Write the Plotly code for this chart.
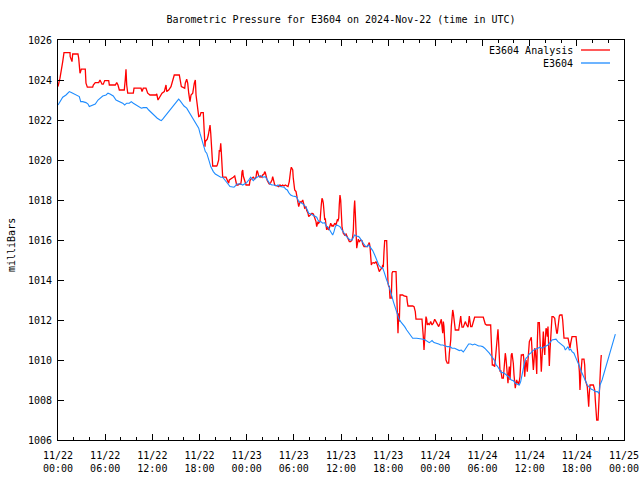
import datetime as dt
import plotly.graph_objects as go

title_text = "Barometric Pressure for E3604 on 2024-Nov-22 (time in UTC)"
y_label = "milliBars"
start_time = dt.datetime(2024, 11, 22, 0, 0)
span_hours = 72
y_min, y_max = 1006, 1026
series_names = ["E3604 Analysis", "E3604"]
series_colors = ["#ff0000", "#1e8cff"]

# (hours since 11/22 00:00 UTC, millibars)
analysis_obs = [
    (0.00, 1023.67), (0.25, 1024.09), (0.60, 1024.92), (0.76, 1025.37), (1.53, 1025.37),
    (1.55, 1025.17), (1.78, 1024.92), (1.87, 1025.30), (2.54, 1025.30), (2.63, 1025.09),
    (2.80, 1024.34), (2.96, 1024.54), (3.47, 1024.54), (3.56, 1023.84), (3.73, 1023.64),
    (4.41, 1023.64), (4.49, 1023.75), (4.74, 1023.87), (5.18, 1023.87), (5.34, 1024.00),
    (5.60, 1023.79), (5.76, 1023.79), (5.94, 1023.97), (6.45, 1023.97), (6.53, 1023.75),
    (7.29, 1023.75), (7.47, 1023.87), (7.63, 1023.75), (7.80, 1023.50), (8.43, 1023.50),
    (8.56, 1024.04), (8.65, 1024.54), (8.74, 1023.75), (8.87, 1023.34), (9.58, 1023.34),
    (9.67, 1023.59), (10.56, 1023.59), (10.69, 1023.42), (10.85, 1023.59), (11.19, 1023.59),
    (11.41, 1023.34), (11.70, 1023.25), (12.47, 1023.25), (12.56, 1023.30), (12.72, 1023.00),
    (12.98, 1023.17), (13.23, 1023.34), (13.52, 1023.42), (13.74, 1023.75), (13.83, 1023.42),
    (14.08, 1023.50), (14.37, 1023.67), (14.59, 1023.92), (14.79, 1024.25), (15.43, 1024.25),
    (15.52, 1024.09), (15.69, 1023.67), (16.12, 1023.59), (16.19, 1023.84), (16.37, 1024.04),
    (16.50, 1023.84), (16.63, 1023.34), (16.79, 1022.92), (16.92, 1023.25), (17.14, 1023.34),
    (17.34, 1023.84), (17.47, 1024.00), (17.56, 1023.25), (17.77, 1022.42), (17.90, 1022.17),
    (18.06, 1022.20), (18.19, 1022.37), (18.48, 1022.37), (18.57, 1021.59), (18.61, 1021.00),
    (18.70, 1020.67), (18.74, 1020.92), (18.99, 1021.04), (19.12, 1021.25), (19.25, 1021.67),
    (19.34, 1021.75), (19.43, 1021.34), (19.50, 1020.84), (19.59, 1019.75), (19.68, 1019.70),
    (20.19, 1019.70), (20.26, 1019.75), (20.44, 1020.00), (20.52, 1020.50), (20.61, 1020.42),
    (20.70, 1020.84), (20.77, 1020.42), (20.86, 1019.50), (20.95, 1019.14), (21.37, 1019.14),
    (21.46, 1019.04), (21.63, 1018.92), (21.71, 1018.84), (21.79, 1019.00), (21.97, 1019.04),
    (22.30, 1019.14), (22.48, 1019.20), (22.56, 1019.04), (22.73, 1018.75), (22.90, 1018.75),
    (23.06, 1018.80), (23.24, 1018.80), (23.32, 1018.97), (23.41, 1019.42), (23.50, 1019.50),
    (23.57, 1019.20), (23.75, 1019.00), (23.83, 1018.80), (23.92, 1018.75), (24.34, 1018.75),
    (24.42, 1018.97), (24.59, 1019.07), (24.84, 1019.14), (25.02, 1019.04), (25.19, 1019.14),
    (25.28, 1019.42), (25.35, 1019.47), (25.44, 1019.34), (25.53, 1019.20), (25.70, 1019.14),
    (25.79, 1019.20), (25.95, 1019.14), (26.04, 1019.25), (26.21, 1019.30), (26.29, 1019.42),
    (26.37, 1019.37), (26.46, 1019.20), (26.55, 1019.04), (26.62, 1018.97), (26.80, 1018.84),
    (26.88, 1018.80), (27.06, 1018.87), (27.22, 1019.00), (27.31, 1019.17), (27.39, 1019.04),
    (27.48, 1018.84), (27.57, 1018.75), (27.90, 1018.70), (28.08, 1018.67), (28.24, 1018.75),
    (28.41, 1018.70), (28.58, 1018.75), (28.75, 1018.70), (28.91, 1018.75), (29.09, 1018.70),
    (29.26, 1018.67), (29.42, 1018.92), (29.51, 1019.34), (29.60, 1019.50), (29.68, 1019.64),
    (29.77, 1019.59), (29.86, 1019.50), (29.93, 1019.09), (30.02, 1018.67), (30.11, 1018.50),
    (30.28, 1018.42), (30.37, 1018.17), (30.44, 1018.00), (30.53, 1017.87), (30.62, 1017.67),
    (30.79, 1017.92), (30.95, 1017.87), (31.13, 1018.00), (31.21, 1017.92), (31.29, 1017.75),
    (31.38, 1017.59), (31.55, 1017.64), (31.64, 1017.47), (31.80, 1017.34), (31.89, 1017.17),
    (31.97, 1017.20), (32.15, 1017.30), (32.31, 1017.34), (32.48, 1017.30), (32.57, 1017.20),
    (32.73, 1017.09), (32.82, 1016.92), (32.91, 1016.67), (32.98, 1016.84), (33.07, 1016.92),
    (33.16, 1016.84), (33.33, 1016.92), (33.49, 1017.75), (33.58, 1018.09), (33.67, 1018.00),
    (33.75, 1017.84), (33.84, 1017.42), (33.93, 1017.00), (34.00, 1017.09), (34.09, 1016.75),
    (34.18, 1016.50), (34.26, 1016.67), (34.43, 1016.50), (34.51, 1016.59), (34.60, 1016.70),
    (34.69, 1016.84), (34.86, 1016.67), (34.94, 1016.75), (35.02, 1016.67), (35.20, 1016.84),
    (35.36, 1016.75), (35.45, 1016.92), (35.53, 1017.00), (35.62, 1016.97), (35.71, 1017.09),
    (35.78, 1017.75), (35.87, 1018.25), (35.96, 1018.00), (36.04, 1017.17), (36.13, 1016.64),
    (36.29, 1016.34), (36.47, 1016.25), (36.64, 1016.30), (36.80, 1016.17), (36.98, 1016.00),
    (37.06, 1015.92), (37.23, 1015.92), (37.40, 1016.00), (37.49, 1016.17), (37.57, 1016.50),
    (37.66, 1017.50), (37.74, 1017.97), (37.82, 1017.34), (37.91, 1016.50), (38.00, 1015.59),
    (38.07, 1015.75), (38.20, 1016.04), (38.33, 1015.92), (38.51, 1016.00), (38.67, 1015.97),
    (38.76, 1015.80), (38.93, 1015.67), (39.35, 1015.67), (39.52, 1015.80), (39.60, 1015.87),
    (39.69, 1015.67), (39.78, 1015.00), (39.86, 1014.75), (39.94, 1014.84), (40.11, 1014.87),
    (40.29, 1014.84), (40.45, 1014.92), (40.62, 1014.75), (40.80, 1014.50), (40.87, 1014.42),
    (41.05, 1014.54), (41.22, 1014.59), (41.31, 1014.75), (41.38, 1014.64), (41.47, 1015.42),
    (41.56, 1015.97), (41.81, 1015.97), (41.89, 1014.50), (41.98, 1013.84), (42.07, 1013.67),
    (42.15, 1013.70), (42.23, 1013.09), (42.40, 1013.09), (42.49, 1014.34), (42.58, 1014.42),
    (43.00, 1014.42), (43.09, 1013.34), (43.16, 1012.00), (43.25, 1011.34), (43.34, 1012.34),
    (43.42, 1011.92), (43.51, 1013.25), (43.85, 1013.25), (44.01, 1013.20), (44.36, 1013.17),
    (44.43, 1012.92), (44.52, 1012.70), (45.12, 1012.70), (45.29, 1012.67), (45.45, 1012.42),
    (45.54, 1012.04), (46.30, 1012.04), (46.39, 1011.67), (46.47, 1011.17), (46.56, 1010.50),
    (46.64, 1011.17), (46.72, 1011.67), (46.81, 1012.17), (46.90, 1012.04), (46.98, 1011.75),
    (47.07, 1011.84), (47.23, 1011.75), (47.41, 1011.92), (47.58, 1011.75), (47.74, 1011.84),
    (47.92, 1012.04), (48.09, 1011.92), (48.25, 1011.80), (48.43, 1011.67), (48.60, 1011.84),
    (48.76, 1012.04), (48.85, 1011.67), (48.94, 1011.34), (49.02, 1011.92), (49.10, 1011.67),
    (49.19, 1011.00), (49.27, 1010.67), (49.36, 1010.00), (49.52, 1009.84), (49.70, 1009.84),
    (49.78, 1010.34), (49.87, 1010.70), (49.96, 1011.00), (50.03, 1011.67), (50.12, 1012.17),
    (50.21, 1012.50), (50.29, 1012.34), (50.38, 1012.00), (50.46, 1011.67), (50.54, 1011.50),
    (50.97, 1011.50), (51.05, 1011.84), (51.14, 1012.00), (51.23, 1012.20), (51.30, 1011.92),
    (51.39, 1011.64), (51.56, 1011.64), (51.65, 1011.75), (51.81, 1011.92), (51.99, 1011.75),
    (52.16, 1011.64), (52.24, 1011.92), (52.32, 1012.20), (52.41, 1011.92), (52.50, 1011.67),
    (52.66, 1011.67), (52.83, 1011.92), (52.92, 1012.09), (53.00, 1012.14), (54.10, 1012.14),
    (54.19, 1012.00), (54.35, 1011.80), (54.53, 1011.75), (55.04, 1011.75), (55.08, 1011.34),
    (55.17, 1010.34), (55.25, 1009.75), (55.38, 1009.75), (55.46, 1009.67), (55.55, 1009.67),
    (55.63, 1010.00), (55.72, 1010.50), (55.81, 1011.00), (55.88, 1011.42), (55.97, 1011.54),
    (56.06, 1010.84), (56.14, 1010.25), (56.23, 1009.42), (56.32, 1009.50), (56.40, 1009.25),
    (56.48, 1009.09), (56.65, 1009.09), (56.74, 1009.67), (56.83, 1010.25), (56.90, 1010.34),
    (56.99, 1010.09), (57.08, 1009.67), (57.16, 1009.42), (57.24, 1008.84), (57.33, 1009.34),
    (57.41, 1009.67), (57.50, 1009.00), (57.58, 1009.75), (57.66, 1010.25), (57.75, 1010.34),
    (57.84, 1010.09), (57.92, 1009.84), (58.01, 1009.25), (58.10, 1008.75), (58.17, 1008.59),
    (58.26, 1008.84), (58.35, 1009.00), (58.43, 1008.84), (58.52, 1008.92), (58.61, 1008.75),
    (58.68, 1008.92), (58.77, 1009.17), (58.86, 1009.84), (58.94, 1010.25), (59.12, 1010.25),
    (59.19, 1010.30), (59.28, 1009.92), (59.37, 1009.17), (59.45, 1009.67), (59.54, 1010.00),
    (59.63, 1009.67), (59.70, 1009.42), (59.79, 1010.00), (59.88, 1010.67), (59.96, 1010.92),
    (60.05, 1011.00), (60.14, 1011.09), (60.21, 1011.14), (60.30, 1010.50), (60.39, 1009.75),
    (60.47, 1009.50), (60.55, 1009.92), (60.64, 1010.59), (60.72, 1010.50), (60.81, 1010.00),
    (60.90, 1009.30), (60.97, 1010.84), (61.06, 1011.87), (61.23, 1011.87), (61.32, 1011.00),
    (61.41, 1009.92), (61.48, 1009.42), (61.57, 1010.09), (61.66, 1011.34), (61.74, 1011.42),
    (61.83, 1010.67), (61.92, 1010.25), (61.99, 1011.00), (62.08, 1011.59), (62.17, 1011.50),
    (62.25, 1011.17), (62.33, 1011.67), (62.42, 1010.75), (62.50, 1009.70), (62.59, 1010.50),
    (62.68, 1011.34), (62.76, 1011.67), (62.84, 1012.17), (63.01, 1012.17), (63.19, 1012.09),
    (63.26, 1011.84), (63.35, 1011.50), (63.44, 1011.34), (63.52, 1011.34), (63.60, 1011.67),
    (63.69, 1012.09), (63.77, 1012.20), (63.86, 1012.25), (64.11, 1012.25), (64.20, 1012.00),
    (64.28, 1011.50), (64.37, 1011.09), (64.88, 1011.09), (64.97, 1010.92), (65.04, 1010.92),
    (65.13, 1010.59), (65.22, 1010.84), (65.30, 1011.09), (65.39, 1011.17), (65.90, 1011.17),
    (65.98, 1010.92), (66.06, 1010.67), (66.15, 1010.34), (66.24, 1009.84), (66.32, 1009.42),
    (66.40, 1008.50), (66.49, 1009.17), (66.57, 1010.00), (66.66, 1010.04), (66.91, 1010.04),
    (67.00, 1009.75), (67.08, 1009.00), (67.26, 1008.75), (67.33, 1008.67), (67.42, 1008.17),
    (67.51, 1007.67), (67.59, 1008.34), (67.68, 1008.75), (68.10, 1008.75), (68.28, 1008.50),
    (68.35, 1008.00), (68.44, 1007.42), (68.53, 1007.00), (68.70, 1007.00), (68.79, 1007.84),
    (68.86, 1008.50), (68.95, 1009.75), (69.04, 1009.84), (69.11, 1010.25),
]

station_obs = [
    (0.00, 1022.75), (0.34, 1023.00), (0.60, 1023.14), (1.02, 1023.25), (1.44, 1023.42),
    (1.69, 1023.37), (2.04, 1023.30), (2.38, 1023.25), (2.71, 1023.17), (2.89, 1022.92),
    (3.14, 1022.92), (3.56, 1022.87), (3.82, 1022.80), (3.98, 1022.67), (4.41, 1022.75),
    (4.74, 1022.80), (5.09, 1023.00), (5.43, 1023.14), (5.69, 1023.20), (6.11, 1023.25),
    (6.36, 1023.34), (6.61, 1023.30), (7.03, 1023.20), (7.38, 1023.00), (7.80, 1022.92),
    (8.23, 1022.84), (8.48, 1022.75), (8.74, 1022.84), (9.07, 1022.84), (9.32, 1022.92),
    (9.58, 1022.84), (9.92, 1022.75), (10.18, 1022.67), (10.60, 1022.59), (10.85, 1022.62),
    (11.28, 1022.62), (11.54, 1022.50), (11.87, 1022.37), (12.05, 1022.34), (12.30, 1022.20),
    (12.63, 1022.09), (12.98, 1022.00), (13.14, 1021.97), (13.32, 1022.04), (13.57, 1022.17),
    (13.90, 1022.30), (14.16, 1022.42), (14.41, 1022.59), (14.67, 1022.70), (14.92, 1022.84),
    (15.18, 1022.97), (15.35, 1023.04), (15.52, 1022.97), (15.77, 1022.84), (16.03, 1022.70),
    (16.37, 1022.59), (16.63, 1022.42), (16.88, 1022.25), (17.14, 1022.09), (17.39, 1021.92),
    (17.64, 1021.75), (17.90, 1021.59), (18.06, 1021.34), (18.23, 1021.09), (18.41, 1020.84),
    (18.57, 1020.59), (18.74, 1020.42), (18.92, 1020.34), (19.08, 1020.17), (19.25, 1019.92),
    (19.43, 1019.67), (19.59, 1019.50), (19.76, 1019.42), (20.01, 1019.30), (20.19, 1019.25),
    (20.44, 1019.20), (20.70, 1019.14), (20.95, 1019.14), (21.12, 1019.04), (21.37, 1018.92),
    (21.63, 1018.80), (21.88, 1018.67), (22.13, 1018.64), (22.39, 1018.64), (22.56, 1018.70),
    (22.73, 1018.80), (22.99, 1018.80), (23.24, 1018.80), (23.50, 1018.75), (23.75, 1018.80),
    (24.00, 1018.87), (24.26, 1019.00), (24.51, 1019.14), (24.68, 1019.04), (24.84, 1018.97),
    (25.10, 1019.09), (25.35, 1019.14), (25.61, 1019.20), (25.86, 1019.20), (26.12, 1019.14),
    (26.37, 1019.17), (26.55, 1019.04), (26.71, 1018.92), (26.97, 1018.80), (27.22, 1018.75),
    (27.48, 1018.75), (27.73, 1018.70), (27.99, 1018.75), (28.24, 1018.67), (28.50, 1018.64),
    (28.75, 1018.64), (29.00, 1018.54), (29.17, 1018.50), (29.35, 1018.37), (29.60, 1018.25),
    (29.86, 1018.20), (30.11, 1018.17), (30.28, 1018.17), (30.44, 1018.09), (30.62, 1017.92),
    (30.79, 1017.87), (31.04, 1017.84), (31.29, 1017.75), (31.55, 1017.64), (31.72, 1017.50),
    (31.89, 1017.34), (32.15, 1017.30), (32.40, 1017.25), (32.65, 1017.20), (32.91, 1017.14),
    (33.07, 1017.00), (33.24, 1016.92), (33.42, 1016.92), (33.67, 1016.84), (33.93, 1016.87),
    (34.09, 1016.70), (34.35, 1016.64), (34.60, 1016.47), (34.77, 1016.34), (34.94, 1016.25),
    (35.11, 1016.42), (35.28, 1016.67), (35.45, 1016.75), (35.71, 1016.70), (35.87, 1016.67),
    (36.13, 1016.50), (36.38, 1016.34), (36.64, 1016.20), (36.89, 1016.09), (37.15, 1016.00),
    (37.40, 1016.00), (37.57, 1016.14), (37.74, 1016.25), (38.00, 1016.20), (38.25, 1016.17),
    (38.42, 1016.09), (38.67, 1015.97), (38.84, 1015.84), (39.09, 1015.70), (39.35, 1015.67),
    (39.52, 1015.75), (39.69, 1015.67), (39.86, 1015.59), (40.03, 1015.47), (40.29, 1015.25),
    (40.54, 1015.00), (40.80, 1014.75), (41.05, 1014.64), (41.31, 1014.59), (41.47, 1014.42),
    (41.64, 1014.17), (41.81, 1014.00), (41.98, 1013.84), (42.15, 1013.64), (42.32, 1013.42),
    (42.49, 1013.17), (42.66, 1012.92), (42.83, 1012.70), (43.00, 1012.47), (43.16, 1012.25),
    (43.34, 1012.09), (43.59, 1011.92), (43.85, 1011.80), (44.10, 1011.67), (44.36, 1011.50),
    (44.61, 1011.37), (44.87, 1011.20), (45.12, 1011.09), (45.63, 1011.09), (46.05, 1011.07),
    (46.47, 1011.04), (46.72, 1011.00), (46.98, 1010.92), (47.23, 1010.87), (47.41, 1010.92),
    (47.58, 1010.97), (47.83, 1010.87), (48.17, 1010.84), (48.43, 1010.80), (48.68, 1010.75),
    (48.94, 1010.75), (49.27, 1010.70), (49.52, 1010.67), (49.87, 1010.67), (50.12, 1010.59),
    (50.46, 1010.59), (50.80, 1010.50), (51.05, 1010.47), (51.30, 1010.50), (51.56, 1010.40),
    (51.74, 1010.50), (51.99, 1010.67), (52.24, 1010.80), (52.50, 1010.80), (52.75, 1010.75),
    (53.00, 1010.80), (53.26, 1010.75), (53.51, 1010.70), (53.77, 1010.70), (54.02, 1010.67),
    (54.28, 1010.59), (54.53, 1010.50), (54.70, 1010.40), (54.87, 1010.34), (55.12, 1010.20),
    (55.38, 1010.09), (55.55, 1009.97), (55.72, 1009.75), (55.88, 1009.70), (56.06, 1009.59),
    (56.23, 1009.47), (56.40, 1009.37), (56.65, 1009.37), (56.90, 1009.30), (57.16, 1009.25),
    (57.41, 1009.14), (57.66, 1009.00), (57.92, 1008.97), (58.17, 1008.84), (58.43, 1008.80),
    (58.68, 1008.75), (58.86, 1008.92), (59.02, 1009.25), (59.19, 1009.67), (59.37, 1009.92),
    (59.54, 1010.09), (59.70, 1010.14), (59.96, 1010.30), (60.21, 1010.37), (60.39, 1010.47),
    (60.55, 1010.50), (60.81, 1010.54), (61.06, 1010.59), (61.32, 1010.64), (61.57, 1010.59),
    (61.83, 1010.67), (62.08, 1010.70), (62.33, 1010.75), (62.50, 1010.87), (62.68, 1010.92),
    (62.84, 1011.00), (63.10, 1011.04), (63.35, 1011.04), (63.60, 1010.92), (63.86, 1010.84),
    (64.11, 1010.75), (64.37, 1010.67), (64.54, 1010.50), (64.71, 1010.59), (64.88, 1010.67),
    (65.04, 1010.50), (65.22, 1010.54), (65.39, 1010.42), (65.64, 1010.34), (65.81, 1010.17),
    (65.98, 1010.04), (66.15, 1009.84), (66.32, 1009.70), (66.49, 1009.50), (66.66, 1009.34),
    (66.83, 1009.14), (67.08, 1008.97), (67.33, 1008.75), (67.59, 1008.64), (67.85, 1008.54),
    (68.10, 1008.50), (68.35, 1008.42), (68.61, 1008.42), (68.79, 1008.34), (68.86, 1008.42),
    (68.95, 1008.75), (69.21, 1009.00), (69.46, 1009.34), (69.72, 1009.67), (69.97, 1010.00),
    (70.23, 1010.34), (70.48, 1010.67), (70.73, 1011.00), (70.90, 1011.29),
]

major_tick_hours = list(range(0, span_hours + 1, 6))
y_tick_values = list(range(y_min, y_max + 1, 2))


def to_time(h):
    return start_time + dt.timedelta(hours=h)


FONT = "DejaVu Sans Mono"
FS = 10

fig = go.Figure()
for obs, name, color, width in [
    (analysis_obs, series_names[0], series_colors[0], 1.3),
    (station_obs, series_names[1], series_colors[1], 1.1),
]:
    fig.add_trace(go.Scatter(
        x=[to_time(h) for h, _ in obs],
        y=[v for _, v in obs],
        mode="lines", name=name,
        line=dict(color=color, width=width),
        showlegend=False, hoverinfo="skip",
    ))

tick_times = [to_time(h) for h in major_tick_hours]
tick_text = [t.strftime("%m/%d") + "<br>" + t.strftime("%H:%M") for t in tick_times]

fig.update_xaxes(
    type="date",
    range=[start_time - dt.timedelta(seconds=2), to_time(span_hours) + dt.timedelta(seconds=2)],
    tickvals=tick_times, ticktext=tick_text,
    ticks="inside", ticklen=6, tickwidth=1, tickcolor="black",
    minor=dict(dtick=2 * 3600 * 1000, tick0=start_time, ticks="inside",
               ticklen=3, tickcolor="black", showgrid=False),
    showline=True, linecolor="black", linewidth=1, mirror="ticks",
    showgrid=False, zeroline=False,
    ticklabelstandoff=6,
    tickfont=dict(family=FONT, size=FS, color="black"),
)
fig.update_yaxes(
    range=[y_min, y_max],
    tickvals=y_tick_values,
    ticks="inside", ticklen=6, tickwidth=1, tickcolor="black",
    showline=True, linecolor="black", linewidth=1, mirror="ticks",
    showgrid=False, zeroline=False,
    ticklabelstandoff=3,
    tickfont=dict(family=FONT, size=FS, color="black"),
)

# plot box at x 58..624, y 40..440 of a 640x480 page
W, H = 640, 480
L, R, T, B = 58, 16, 40, 40
pw, ph = W - L - R, H - T - B


def px_x(x):
    return (x - L) / pw


def px_y(y):
    return (H - B - y) / ph


annotations = [
    dict(text=y_label, x=px_x(12), y=px_y(245), xref="paper", yref="paper",
         textangle=-90, showarrow=False, xanchor="center", yanchor="middle",
         font=dict(family=FONT, size=FS, color="black")),
]
shapes = []
for i, (name, color) in enumerate(zip(series_names, series_colors)):
    yy = 50 + 13 * i
    annotations.append(dict(text=name, x=px_x(575), y=px_y(yy), xref="paper", yref="paper",
                            showarrow=False, xanchor="right", yanchor="middle",
                            font=dict(family=FONT, size=FS, color="black")))
    shapes.append(dict(type="line", xref="paper", yref="paper",
                       x0=px_x(581), x1=px_x(610), y0=px_y(yy), y1=px_y(yy),
                       line=dict(color=color, width=1.3)))

fig.update_layout(
    width=W, height=H,
    margin=dict(l=L, r=R, t=T, b=B, autoexpand=False),
    paper_bgcolor="white", plot_bgcolor="white",
    title=dict(text=title_text, x=341 / W, xanchor="center",
               y=1 - 19 / H, yanchor="middle",
               font=dict(family=FONT, size=FS, color="black")),
    annotations=annotations, shapes=shapes,
    showlegend=False, hovermode=False,
)

fig.write_html(
    "out.html",
    config={"displayModeBar": False, "staticPlot": True},
    post_script="document.body.style.margin='0';document.body.style.overflow='hidden';",
)
